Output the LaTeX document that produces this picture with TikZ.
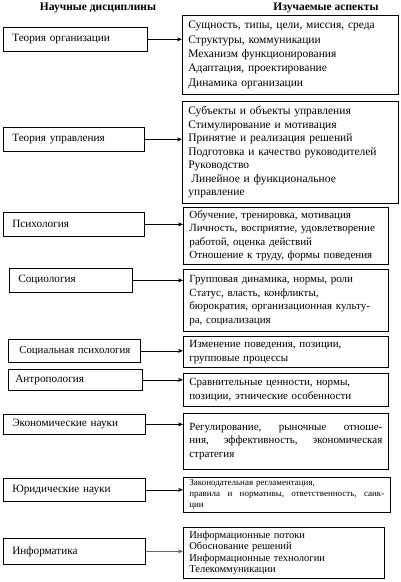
\documentclass[tikz,border=0pt]{standalone}
\usepackage{fontspec}
\setmainfont{Liberation Serif}
\usetikzlibrary{arrows.meta,positioning}

\begin{document}
\begin{tikzpicture}[x=1pt,y=-1pt,>={Stealth[length=5pt,width=4pt]},
  font=\fontsize{11.5}{14}\selectfont,
  head/.style={font=\fontsize{11.5}{14}\selectfont\bfseries},
  disc/.style={draw,line width=0.7pt,anchor=north west,align=left,inner xsep=9pt,inner ysep=0pt,minimum height=24pt,font=\fontsize{11.2}{13}\selectfont},
  asp/.style={draw,line width=0.7pt,anchor=north west,align=left,inner xsep=6pt,inner ysep=2pt,font=\fontsize{11}{13.5}\selectfont},
  link/.style={->,line width=0.7pt}]
  \useasboundingbox (0,0) rectangle (401,582);
  \node[head] (hdisc) at (98,8) {Научные дисциплины};
  \node[head] (hasp) at (326,8) {Изучаемые аспекты};

  \node[disc,text width=126pt] (org) at (3,27) {Теория организации};
  \node[asp,text width=204pt,minimum height=79pt,font=\fontsize{11.5}{14.3}\selectfont] (orgA) at (182,15)
    {Сущность, типы, цели, миссия, среда\\Структуры, коммуникации\\Механизм функционирования\\Адаптация, проектирование\\Динамика организации};

  \node[disc,text width=123pt] (upr) at (3,127) {Теория управления};
  \node[asp,text width=204pt,minimum height=102pt,font=\fontsize{11.5}{13.5}\selectfont] (uprA) at (182,101)
    {Субъекты и объекты управления\\Стимулирование и мотивация\\Принятие и реализация решений\\Подготовка и качество руководителей\\Руководство\\\hspace{3pt}Линейное и функциональное\\управление};

  \node[disc,text width=123pt] (psy) at (3,212) {Психология};
  \node[asp,text width=193pt,minimum height=57pt] (psyA) at (183,207)
    {Обучение, тренировка, мотивация\\Личность, восприятие, удовлетворение\\работой, оценка действий\\Отношение к труду, формы поведения};

  \node[disc,text width=105pt] (soc) at (9,268) {Социология};
  \node[asp,text width=193pt,minimum height=62pt] (socA) at (183,269)
    {Групповая динамика, нормы, роли\\Статус, власть, конфликты,\\бюрократия, организационная культу-\\ра, социализация};

  \node[disc,text width=122pt,inner xsep=5pt,minimum height=23pt,font=\fontsize{10.8}{13}\selectfont] (spsy) at (8,339) {\hspace*{6pt}\mbox{Социальная психология}};
  \node[asp,text width=193pt,minimum height=31pt] (spsyA) at (183,336)
    {Изменение поведения, позиции,\\групповые процессы};

  \node[disc,text width=120pt,inner xsep=7pt,minimum height=21pt] (ant) at (8,369) {Антропология};
  \node[asp,text width=193pt,minimum height=33pt] (antA) at (183,373)
    {Сравнительные ценности, нормы,\\позиции, этнические особенности};

  \node[disc,text width=124pt,minimum height=20pt] (eco) at (3,414) {Экономические науки};
  \node[asp,text width=193pt,minimum height=56pt] (ecoA) at (183,413)
    {Регулирование,\hfill рыночные\hfill отноше-\\ния,\hfill эффективность,\hfill экономическая\\стратегия};

  \node[disc,text width=124pt,minimum height=23pt] (jur) at (3,478) {Юридические науки};
  \node[asp,text width=195pt,minimum height=35pt,font=\fontsize{9}{11}\selectfont] (jurA) at (183,477)
    {Законодательная регламентация,\\правила\hfill и\hfill нормативы,\hfill ответственность,\hfill санк-\\ции};

  \node[disc,text width=124pt,minimum height=26pt] (inf) at (3,538) {Информатика};
  \node[asp,text width=189pt,minimum height=51pt,font=\fontsize{10.5}{11.5}\selectfont] (infA) at (183,527)
    {Информационные потоки\\Обоснование решений\\Информационные технологии\\Телекоммуникации};

  \draw[link] (org.east)--(org.east-|orgA.west);\draw[link] (upr.east)--(upr.east-|uprA.west);
  \draw[link] (psy.east)--(psy.east-|psyA.west);\draw[link] (soc.east)--(soc.east-|socA.west);
  \draw[link] (spsy.east)--(spsy.east-|spsyA.west);\draw[link] (ant.east)--(ant.east-|antA.west);
  \draw[link] (eco.east)--(eco.east-|ecoA.west);\draw[link] (jur.east)--(jur.east-|jurA.west);
  \draw[link,black!60] (inf.east)--(inf.east-|infA.west);
\end{tikzpicture}
\end{document}
